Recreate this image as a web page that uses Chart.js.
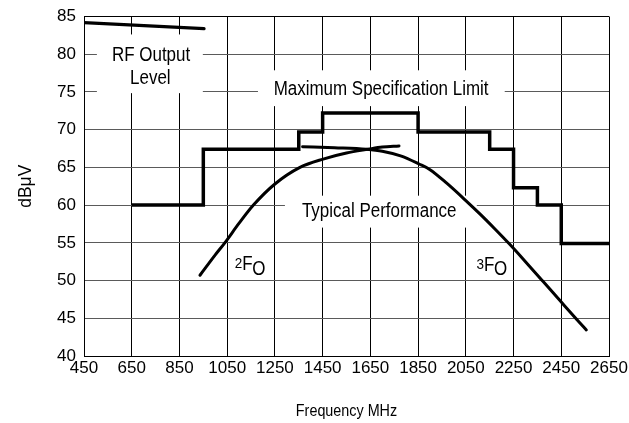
<!DOCTYPE html>
<html>
<head>
<meta charset="utf-8">
<script src="https://cdn.jsdelivr.net/npm/chart.js@4.4.1/dist/chart.umd.min.js"></script>
<style>
html,body{margin:0;padding:0;background:#fff;}
canvas{display:block;}
</style>
</head>
<body>
<canvas id="c" width="629" height="423"></canvas>
<script>
// ---- data ----
const xTickValues = [450, 650, 850, 1050, 1250, 1450, 1650, 1850, 2050, 2250, 2450, 2650];
const yTickValues = [40, 45, 50, 55, 60, 65, 70, 75, 80, 85];

// Maximum Specification Limit (step line, level holds from each frequency to the next)
const specFreq  = [650, 950, 1350, 1450, 1850, 2150, 2250, 2350, 2450, 2650];
const specLimit = [60.0, 67.4, 69.7, 72.2, 69.7, 67.4, 62.3, 60.0, 54.9, 54.9];

// RF Output Level
const rfFreq  = [450, 953];
const rfLevel = [84.2, 83.4];

// Typical performance, 2nd harmonic (2Fo)
const f2Freq  = [936, 1000, 1040, 1100, 1160, 1250, 1355, 1452, 1550, 1640, 1700, 1770];
const f2Level = [50.7, 53.4, 55.0, 57.6, 60.0, 62.8, 65.0, 66.1, 66.9, 67.4, 67.7, 67.85];

// Typical performance, 3rd harmonic (3Fo)
const f3Freq  = [1366, 1500, 1633, 1700, 1780, 1854, 1900, 1970, 2050, 2110, 2170, 2234, 2300, 2376, 2450, 2516, 2555];
const f3Level = [67.75, 67.6, 67.4, 67.15, 66.5, 65.45, 64.7, 62.9, 60.6, 58.8, 56.9, 54.8, 52.5, 49.8, 47.15, 44.8, 43.45];

// axis titles
const xTitle = 'Frequency MHz';
const yTitle = 'dBμV';

// ---- chart ----
const FONT = '"Liberation Sans", Arial, Helvetica, sans-serif';
const pts = (xs, ys) => xs.map((x, i) => ({x: x, y: ys[i]}));

function drawText(ctx, str, X, Y, size, align, sx, rot) {
  ctx.save();
  ctx.translate(X, Y);
  if (rot) ctx.rotate(rot);
  ctx.scale(sx, 1);
  ctx.font = size + 'px ' + FONT;
  ctx.textAlign = align;
  ctx.textBaseline = 'alphabetic';
  ctx.fillStyle = '#000';
  ctx.fillText(str, 0, 0);
  const w = ctx.measureText(str).width * sx;
  ctx.restore();
  return w;
}

const labelPlugin = {
  id: 'labels',
  beforeDatasetsDraw(chart) {
    const {ctx, scales: {x, y}} = chart;
    const px = f => x.getPixelForValue(f);
    const py = v => y.getPixelForValue(v);
    function box(f1, f2, v1, v2) {
      const X1 = px(f1), X2 = px(f2), Y1 = py(v1), Y2 = py(v2);
      ctx.fillStyle = '#fff';
      ctx.fillRect(Math.min(X1, X2), Math.min(Y1, Y2), Math.abs(X2 - X1), Math.abs(Y2 - Y1));
    }
    function harmonic(n, f, v) {
      let X = px(f);
      const Y = py(v);
      X += drawText(ctx, n, X, Y - 2, 15.5, 'left', 0.87);
      X += drawText(ctx, 'F', X, Y, 19.5, 'left', 0.87);
      drawText(ctx, 'O', X - 0.5, Y + 4.5, 19.5, 'left', 0.87);
    }
    ctx.save();
    // white label backgrounds that break the grid
    box(504, 948, 82.62, 74.84);
    box(1179, 2213, 77.87, 73.12);
    box(1292, 2096, 61.25, 57.02);
    // label texts
    drawText(ctx, 'RF Output', px(731), py(79.15), 19.5, 'center', 0.87);
    drawText(ctx, 'Level', px(728), py(76.07), 19.5, 'center', 0.87);
    drawText(ctx, 'Maximum Specification Limit', px(1695), py(74.54), 19.5, 'center', 0.87);
    drawText(ctx, 'Typical Performance', px(1687), py(58.38), 19.5, 'center', 0.87);
    harmonic('2', 1082, 51.35);
    harmonic('3', 2095, 51.3);
    ctx.restore();
  },
  afterDraw(chart) {
    const {ctx, chartArea} = chart;
    const cx = (chartArea.left + chartArea.right) / 2;
    const cy = (chartArea.top + chartArea.bottom) / 2;
    drawText(ctx, xTitle, cx, chartArea.bottom + 60, 16.5, 'center', 0.87);
    drawText(ctx, yTitle, 31, cy, 17.5, 'center', 1, -Math.PI / 2);
  }
};

new Chart(document.getElementById('c'), {
  type: 'line',
  data: {
    datasets: [
      {
        label: 'Maximum Specification Limit',
        data: pts(specFreq, specLimit),
        stepped: 'before',
        borderColor: '#000',
        borderWidth: 3.5,
        borderJoinStyle: 'miter',
        pointRadius: 0,
        fill: false
      },
      {
        label: 'RF Output Level',
        data: pts(rfFreq, rfLevel),
        borderColor: '#000',
        borderWidth: 3.2,
        borderCapStyle: 'round',
        pointRadius: 0,
        fill: false
      },
      {
        label: '2Fo',
        data: pts(f2Freq, f2Level),
        borderColor: '#000',
        borderWidth: 3,
        borderCapStyle: 'round',
        cubicInterpolationMode: 'monotone',
        pointRadius: 0,
        fill: false
      },
      {
        label: '3Fo',
        data: pts(f3Freq, f3Level),
        borderColor: '#000',
        borderWidth: 3,
        borderCapStyle: 'round',
        cubicInterpolationMode: 'monotone',
        pointRadius: 0,
        fill: false
      }
    ]
  },
  options: {
    responsive: false,
    animation: false,
    devicePixelRatio: 1,
    layout: {padding: {top: 15, right: 20, left: 0, bottom: 0}},
    plugins: {
      legend: {display: false},
      tooltip: {enabled: false},
      title: {display: false}
    },
    scales: {
      x: {
        type: 'linear',
        min: 450,
        max: 2650,
        afterBuildTicks: s => { s.ticks = xTickValues.map(v => ({value: v})); },
        afterFit: s => { s.height = 67; s.paddingRight = 0; s.paddingLeft = 0; },
        grid: {color: '#000', lineWidth: 1, drawTicks: false},
        border: {color: '#000', width: 1},
        ticks: {
          color: '#000',
          font: {family: FONT, size: 17, lineHeight: 1},
          padding: 4,
          maxRotation: 0,
          autoSkip: false,
          callback: v => String(v)
        },
        title: {display: false}
      },
      y: {
        type: 'linear',
        min: 40,
        max: 85,
        afterBuildTicks: s => { s.ticks = yTickValues.map(v => ({value: v})); },
        afterFit: s => { s.width = 84; },
        grid: {
          color: ctx => (ctx.tick && (ctx.tick.value === 85 || ctx.tick.value === 40)) ? '#000' : '#5a5a5a',
          lineWidth: 1,
          drawTicks: false
        },
        border: {color: '#000', width: 1},
        ticks: {
          color: '#000',
          font: {family: FONT, size: 17, lineHeight: 1},
          padding: 8,
          autoSkip: false,
          callback: v => String(v)
        },
        title: {display: false}
      }
    }
  },
  plugins: [labelPlugin]
});
</script>
</body>
</html>
